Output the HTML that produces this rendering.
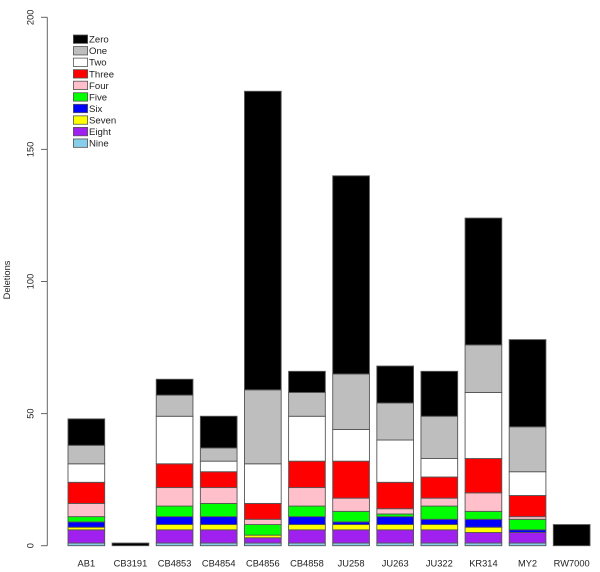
<!DOCTYPE html>
<html>
<head>
<meta charset="utf-8">
<title>Deletions stacked bar chart</title>
<style>
html,body{margin:0;padding:0;background:#fff;width:600px;height:572px;overflow:hidden}
svg{display:block}
text{font-family:"Liberation Sans",sans-serif;font-size:9.3px;fill:#222}
.legend-label{font-size:9.6px}
</style>
</head>
<body>
<svg id="chart" width="600" height="572" viewBox="0 0 600 572" xmlns="http://www.w3.org/2000/svg"></svg>
<script>
const categories = ["AB1","CB3191","CB4853","CB4854","CB4856","CB4858","JU258","JU263","JU322","KR314","MY2","RW7000"];
const seriesNames = ["Nine","Eight","Seven","Six","Five","Four","Three","Two","One","Zero"];
const seriesColors = ["#87ceeb","#a020f0","#ffff00","#0000ff","#00ff00","#ffc0cb","#ff0000","#ffffff","#bebebe","#000000"];
const nine  = [1,0,1,1,1,1,1,1,1,1,1,0];
const eight = [5,0,5,5,2,5,5,5,5,4,4,0];
const seven = [1,0,2,2,1,2,2,2,2,2,0,0];
const six   = [2,0,3,3,0,3,1,3,2,3,1,0];
const five  = [2,0,4,5,4,4,4,1,5,3,4,0];
const four  = [5,0,7,6,2,7,5,2,3,7,1,0];
const three = [8,0,9,6,6,10,14,10,8,13,8,0];
const two   = [7,0,18,4,15,17,12,16,7,25,9,0];
const one   = [7,0,8,5,28,9,21,14,16,18,17,0];
const zero  = [10,1,6,12,113,8,75,14,17,48,33,8];
const seriesValues = [nine,eight,seven,six,five,four,three,two,one,zero];
const yTicks = [0,50,100,150,200];

const svg = document.getElementById('chart');
const NS = 'http://www.w3.org/2000/svg';
function yScale(v){ return 545.7 - v * 2.642; }
function xScale(i){ return 68 + i * 44.12; }
const barWidth = 36.7;
function make(tag, attrs, parent){
  const el = document.createElementNS(NS, tag);
  for (const k in attrs) el.setAttribute(k, attrs[k]);
  (parent || svg).appendChild(el);
  return el;
}

/* bars */
categories.forEach(function(cat, i){
  const g = make('g', {});
  
  
  let total = 0;
  seriesValues.forEach(function(vals, s){
    const v = vals[i];
    if (!v) return;
    const top = yScale(total + v), bottom = yScale(total);
    const r = make('rect', {x:xScale(i), y:top, width:barWidth, height:bottom-top, fill:seriesColors[s], stroke:'#555', 'stroke-width':0.9}, g);
    
    
    total += v;
  });
  const t = make('text', {x:xScale(i)+barWidth/2, y:566.5, 'text-anchor':'middle'});
  t.textContent = cat;
  
  
});

/* y axis */
const axis = make('g', {stroke:'#666', 'stroke-width':1, fill:'none'});


make('line', {x1:47.3, x2:47.3, y1:yScale(yTicks[0]), y2:yScale(yTicks[yTicks.length-1])}, axis);
yTicks.forEach(function(v){
  const tick = make('line', {x1:41, x2:47.3, y1:yScale(v), y2:yScale(v)}, axis);
  
  
  const t = make('text', {x:33.5, y:yScale(v), 'text-anchor':'middle', transform:'rotate(-90 33.5 ' + yScale(v) + ')'});
  t.textContent = v;
  
  
});
const yTitle = make('text', {x:10, y:280, 'text-anchor':'middle', transform:'rotate(-90 10 280)'});
yTitle.textContent = 'Deletions';



/* legend: listed top-down from Zero to Nine */
const legend = make('g', {});


for (let n = 0; n < seriesNames.length; n++){
  const s = seriesNames.length - 1 - n;
  const y = 35 + n * 11.55;
  const entry = make('g', {}, legend);
  
  
  make('rect', {x:73.4, y:y, width:14.2, height:8.4, fill:seriesColors[s], stroke:'#555', 'stroke-width':0.8}, entry);
  const t = make('text', {x:89, y:y+7.6, class:'legend-label'}, entry);
  t.textContent = seriesNames[s];
}
</script>
</body>
</html>
